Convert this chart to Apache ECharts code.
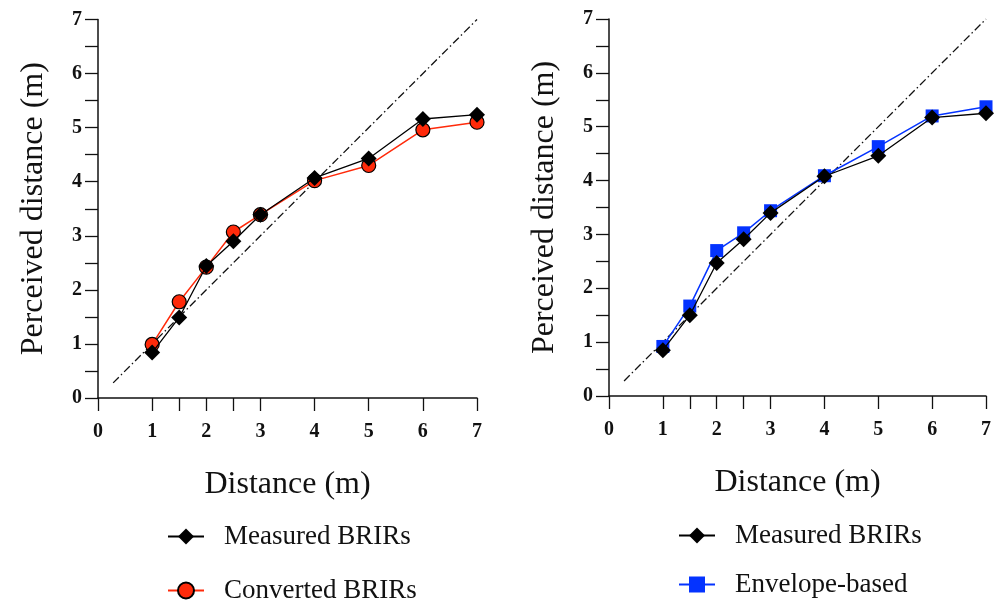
<!DOCTYPE html>
<html><head><meta charset="utf-8">
<script src="https://cdn.jsdelivr.net/npm/echarts@6/dist/echarts.min.js"></script>
<style>html,body{margin:0;padding:0;background:#fff}#c{width:994px;height:605px}</style>
</head><body><div id="c"></div>
<script>
const distances = [1, 1.5, 2, 2.5, 3, 4, 5, 6, 7];
const measuredLeft = [0.84, 1.49, 2.44, 2.90, 3.39, 4.07, 4.43, 5.16, 5.24];
const converted = [0.99, 1.78, 2.42, 3.07, 3.39, 4.02, 4.30, 4.96, 5.10];
const measuredRight = [0.85, 1.50, 2.47, 2.91, 3.40, 4.08, 4.46, 5.17, 5.25];
const envelope = [0.92, 1.67, 2.70, 3.03, 3.44, 4.09, 4.63, 5.20, 5.37];
const diagonal = [[0.28, 0.28], [7, 7]];
const xTickValues = [0, 1, 1.5, 2, 2.5, 3, 4, 5, 6, 7];
const axisLabelValues = [0, 1, 2, 3, 4, 5, 6, 7];

const pair = (xs, ys) => xs.map((x, i) => [x, ys[i]]);
const SERIF = '"Liberation Serif", "DejaVu Serif", serif';

function xAxis(idx) {
  return {
    type: 'value', gridIndex: idx, min: 0, max: 7, interval: 0.5,
    name: 'Distance (m)', nameLocation: 'middle', nameGap: 71,
    nameTextStyle: {fontFamily: SERIF, fontSize: 32, color: '#111'},
    axisLine: {show: true, onZero: false, lineStyle: {color: '#111', width: 1.5}},
    axisTick: {show: true, length: 13, lineStyle: {color: '#111', width: 1.3}, customValues: xTickValues},
    axisLabel: {fontFamily: SERIF, fontWeight: 'bold', fontSize: 20, color: '#111', margin: 24, customValues: axisLabelValues},
    splitLine: {show: false}
  };
}
function yAxis(idx) {
  return {
    type: 'value', gridIndex: idx, min: 0, max: 7, interval: 0.5,
    name: 'Perceived distance (m)', nameLocation: 'middle', nameGap: 48, nameRotate: 90,
    nameTextStyle: {fontFamily: SERIF, fontSize: 32, color: '#111'},
    axisLine: {show: true, onZero: false, lineStyle: {color: '#111', width: 1.5}},
    axisTick: {show: true, length: 13, lineStyle: {color: '#111', width: 1.3}},
    axisLabel: {fontFamily: SERIF, fontWeight: 'bold', fontSize: 20, color: '#111', margin: 16, customValues: axisLabelValues},
    splitLine: {show: false}
  };
}
function diag(idx) {
  return {
    name: 'identity' + idx, type: 'line', xAxisIndex: idx, yAxisIndex: idx,
    data: diagonal, symbol: 'none', silent: true,
    lineStyle: {color: '#111', width: 1.3, type: [8, 3, 1.5, 3]}, z: 1
  };
}
function measured(idx, ys) {
  return {
    name: 'Measured BRIRs', type: 'line', xAxisIndex: idx, yAxisIndex: idx,
    data: pair(distances, ys), symbol: 'diamond', symbolSize: 16,
    itemStyle: {color: '#000'}, lineStyle: {color: '#000', width: 1.3}, z: 4
  };
}
const legendText = {fontFamily: SERIF, fontSize: 27, color: '#111', padding: [0, 0, 0, 15]};
function legendItem(name, left, centerY) {
  return {
    data: [name], orient: 'horizontal', left: left, top: centerY - 16,
    itemWidth: 36, itemHeight: 20, textStyle: legendText, selectedMode: false
  };
}

const option = {
  animation: false,
  backgroundColor: '#fff',
  grid: [
    {left: 98, top: 19.5, right: 517, bottom: 207},
    {left: 609, top: 19, right: 7, bottom: 209}
  ],
  xAxis: [xAxis(0), xAxis(1)],
  yAxis: [yAxis(0), yAxis(1)],
  legend: [
    legendItem('Measured BRIRs', 162, 534),
    legendItem('Converted BRIRs', 162, 588),
    legendItem('Measured BRIRs', 673, 533),
    legendItem('Envelope-based', 673, 582)
  ],
  series: [
    diag(0),
    {
      name: 'Converted BRIRs', type: 'line', xAxisIndex: 0, yAxisIndex: 0,
      data: pair(distances, converted), symbol: 'circle', symbolSize: 14,
      itemStyle: {color: '#ff2a0a', borderColor: '#000', borderWidth: 1.2},
      lineStyle: {color: '#ff2a0a', width: 1.5}, z: 3
    },
    measured(0, measuredLeft),
    diag(1),
    {
      name: 'Envelope-based', type: 'line', xAxisIndex: 1, yAxisIndex: 1,
      data: pair(distances, envelope), symbol: 'rect', symbolSize: 13,
      itemStyle: {color: '#0433ff'},
      lineStyle: {color: '#0433ff', width: 1.5}, z: 3
    },
    measured(1, measuredRight)
  ]
};
const chart = echarts.init(document.getElementById('c'), null, {renderer: 'canvas'});
chart.setOption(option);
</script></body></html>
